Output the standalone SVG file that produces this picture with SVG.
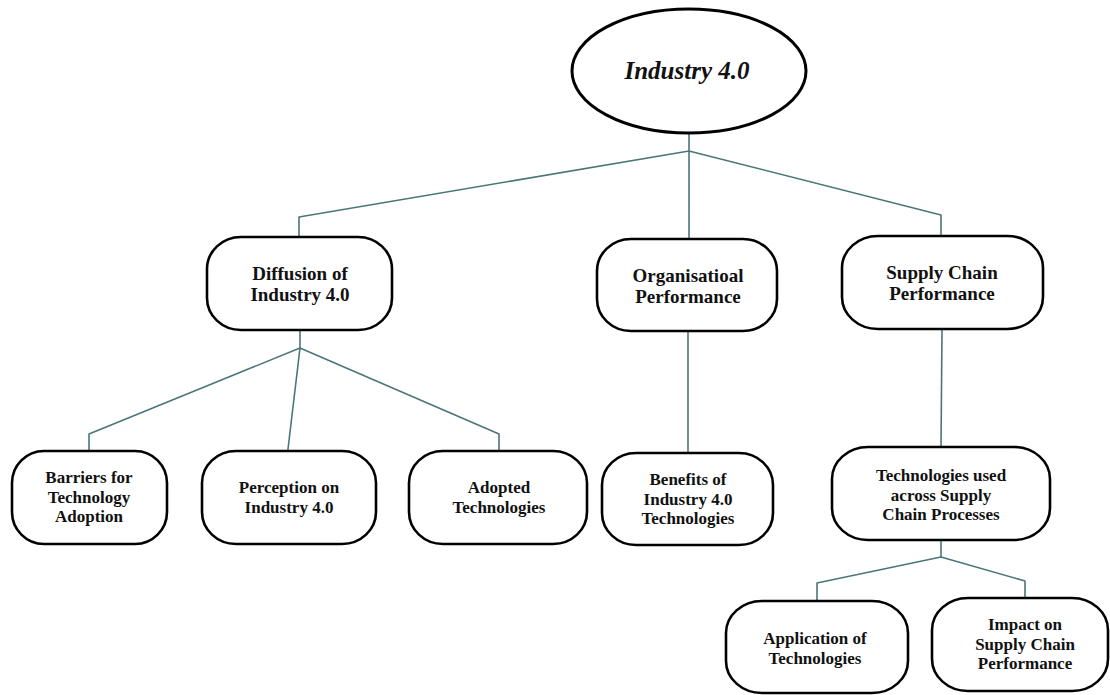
<svg xmlns="http://www.w3.org/2000/svg" width="1110" height="695" viewBox="0 0 1110 695">
<style>
.box{fill:#fff;stroke:#000;stroke-width:2.6}
.c{fill:none;stroke:#4c7676;stroke-width:1.6;stroke-linejoin:round}
.t{font-family:"Liberation Serif","Times New Roman",serif;font-weight:bold;text-anchor:middle;fill:#111}
.u{font-size:19px}
.l{font-size:17px}
</style>
<rect width="1110" height="695" fill="#fff"/>
<g id="connectors">
<path class="c" d="M689 133 V151 M689 151 L299 217 V237 M689 151 V239 M689 151 L941 215 V236"/>
<path class="c" d="M300 330 V348 L89 434 V451 M300 348 L288 449 V451 M300 348 L499 434 V451"/>
<path class="c" d="M688 331 V453"/>
<path class="c" d="M942 329 L941 447"/>
<path class="c" d="M941 540 V557 L817 583 V601 M941 557 L1025 581 V598"/>
</g>
<g id="industry40">
<ellipse cx="689" cy="71" rx="117" ry="62" fill="#fff" stroke="#000" stroke-width="3"/>
<text x="687" y="79" font-family="Liberation Serif,'Times New Roman',serif" font-weight="bold" font-style="italic" font-size="25" text-anchor="middle" fill="#111">Industry 4.0</text>
</g>
<g id="diffusion">
<rect class="box" x="207" y="237" width="185" height="93" rx="34" ry="32"/>
<text class="t u" x="300" y="280">Diffusion of</text>
<text class="t u" x="300" y="301">Industry 4.0</text>
</g>
<g id="organisational">
<rect class="box" x="597" y="239" width="180" height="92" rx="34" ry="32"/>
<text class="t u" x="688" y="282">Organisatioal</text>
<text class="t u" x="688" y="303">Performance</text>
</g>
<g id="supplychain">
<rect class="box" x="842" y="236" width="201" height="93" rx="36" ry="32"/>
<text class="t u" x="942" y="279">Supply Chain</text>
<text class="t u" x="942" y="300">Performance</text>
</g>
<g id="barriers">
<rect class="box" x="12" y="451" width="155" height="93" rx="32" ry="32"/>
<text class="t l" x="89" y="483">Barriers for</text>
<text class="t l" x="89" y="502.5">Technology</text>
<text class="t l" x="89" y="522">Adoption</text>
</g>
<g id="perception">
<rect class="box" x="202" y="451" width="174" height="93" rx="34" ry="32"/>
<text class="t l" x="289" y="493">Perception on</text>
<text class="t l" x="289" y="512.5">Industry 4.0</text>
</g>
<g id="adopted">
<rect class="box" x="409" y="451" width="178" height="93" rx="34" ry="32"/>
<text class="t l" x="499" y="493">Adopted</text>
<text class="t l" x="499" y="512.5">Technologies</text>
</g>
<g id="benefits">
<rect class="box" x="602" y="453" width="171" height="92" rx="34" ry="32"/>
<text class="t l" x="688" y="485">Benefits of</text>
<text class="t l" x="688" y="504.5">Industry 4.0</text>
<text class="t l" x="688" y="524">Technologies</text>
</g>
<g id="technologies">
<rect class="box" x="832" y="447" width="218" height="93" rx="36" ry="32"/>
<text class="t l" x="941" y="481">Technologies used</text>
<text class="t l" x="941" y="500.5">across Supply</text>
<text class="t l" x="941" y="520">Chain Processes</text>
</g>
<g id="application">
<rect class="box" x="726" y="601" width="182" height="92" rx="36" ry="32"/>
<text class="t l" x="815" y="644">Application of</text>
<text class="t l" x="815" y="663.5">Technologies</text>
</g>
<g id="impact">
<rect class="box" x="932" y="598" width="176" height="93" rx="36" ry="32"/>
<text class="t l" x="1025" y="630">Impact on</text>
<text class="t l" x="1025" y="649.5">Supply Chain</text>
<text class="t l" x="1025" y="669">Performance</text>
</g>
</svg>
